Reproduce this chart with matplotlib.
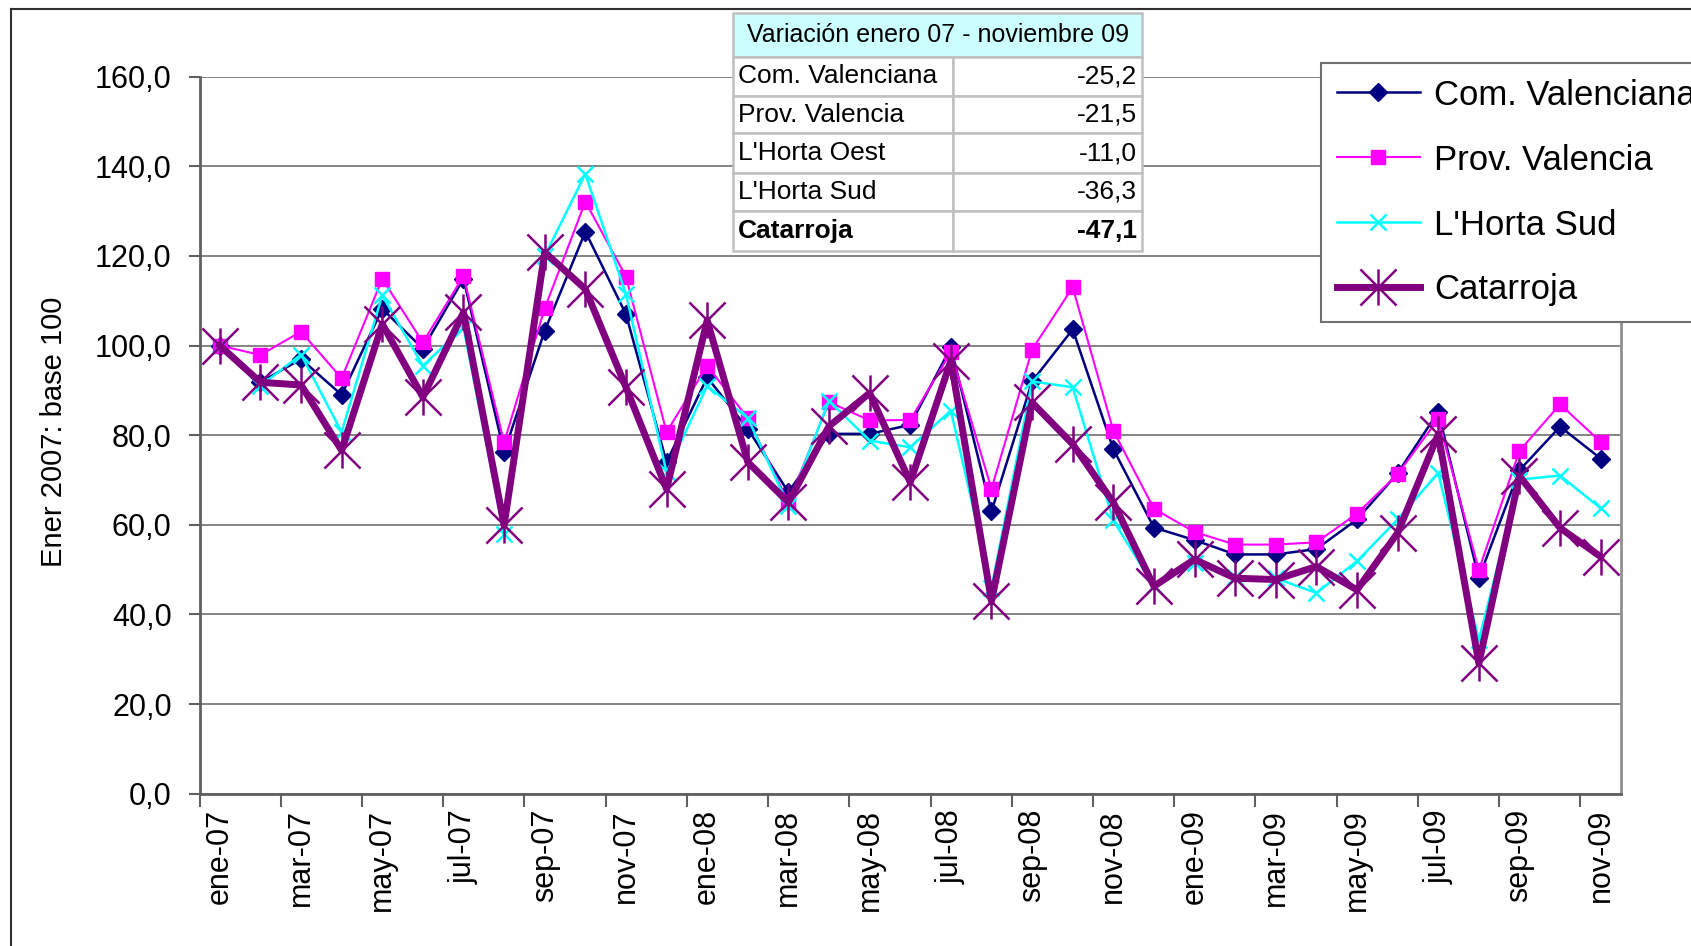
import numpy as np
import matplotlib
matplotlib.use('Agg')
import matplotlib.pyplot as plt
from matplotlib.path import Path
from matplotlib.patches import Rectangle
from matplotlib.lines import Line2D

plt.rcParams['font.family'] = ['Liberation Sans', 'DejaVu Sans']

# meses (categorias del eje x)
meses = ['ene-07', 'feb-07', 'mar-07', 'abr-07', 'may-07', 'jun-07', 'jul-07', 'ago-07',
         'sep-07', 'oct-07', 'nov-07', 'dic-07',
         'ene-08', 'feb-08', 'mar-08', 'abr-08', 'may-08', 'jun-08', 'jul-08', 'ago-08',
         'sep-08', 'oct-08', 'nov-08', 'dic-08',
         'ene-09', 'feb-09', 'mar-09', 'abr-09', 'may-09', 'jun-09', 'jul-09', 'ago-09',
         'sep-09', 'oct-09', 'nov-09']

com_valenciana = [100, 91.8, 97.0, 89.0, 108.2, 99.3, 114.9, 76.2, 103.3, 125.4, 107.0, 74.0,
                  92.9, 81.4, 67.3, 80.3, 80.3, 82.3, 99.6, 63.0, 92.0, 103.6, 76.9, 59.4,
                  56.6, 53.4, 53.4, 54.6, 61.2, 71.5, 85.2, 48.1, 72.2, 81.9, 74.8]
prov_valencia = [100, 97.9, 103.1, 92.7, 114.9, 100.7, 115.5, 78.4, 108.3, 132.1, 115.4, 80.7,
                 95.5, 83.8, 65.0, 87.4, 83.3, 83.4, 98.5, 68.0, 99.1, 113.0, 81.0, 63.6,
                 58.4, 55.6, 55.6, 56.1, 62.5, 71.3, 83.6, 49.9, 76.5, 86.9, 78.5]
horta_sud = [100, 91.0, 98.0, 80.7, 111.2, 95.5, 104.0, 58.0, 120.0, 138.3, 111.5, 71.7,
             91.0, 83.8, 64.3, 87.7, 78.8, 77.3, 85.5, 46.0, 92.0, 90.7, 61.0, 46.3,
             51.6, 48.4, 48.1, 44.8, 51.9, 61.2, 71.6, 34.3, 70.1, 71.0, 63.7]
catarroja = [100, 91.8, 91.2, 76.6, 104.8, 88.5, 107.4, 59.9, 120.8, 112.6, 90.7, 68.0,
             105.6, 74.0, 65.0, 82.0, 89.4, 69.5, 96.6, 43.0, 87.3, 78.0, 65.0, 46.3,
             52.3, 48.1, 47.8, 50.7, 45.5, 58.2, 80.2, 29.1, 70.9, 59.3, 52.9]

y_ticks = [0, 20, 40, 60, 80, 100, 120, 140, 160]

tabla_titulo = 'Variación enero 07 - noviembre 09'
tabla_regiones = ['Com. Valenciana', 'Prov. Valencia', "L'Horta Oest", "L'Horta Sud", 'Catarroja']
tabla_valores = [-25.2, -21.5, -11.0, -36.3, -47.1]

W, H = 1691, 946
fig = plt.figure(figsize=(W / 100, H / 100), dpi=100)


def fx(px):
    return px / W


def fy(py):
    return 1 - py / H


ax = fig.add_axes([fx(199.5), fy(793.8), fx(1621) - fx(199.5), fy(76.6) - fy(793.8)])
x = np.arange(len(meses))

# asterisco estilo excel: X + linea vertical
estrella = Path([(0, -1), (0, 1), (-1, -1), (1, 1), (-1, 1), (1, -1)],
                [Path.MOVETO, Path.LINETO] * 3)

ax.plot(x, com_valenciana, color='#000080', lw=1.8, marker='D', ms=9,
        label='Com. Valenciana', clip_on=False)
ax.plot(x, prov_valencia, color='#FF00FF', lw=1.5, marker='s', ms=10.5,
        label='Prov. Valencia', clip_on=False)
ax.plot(x, horta_sud, color='#00FFFF', lw=1.8, marker='x', ms=12, mew=1.8,
        label="L'Horta Sud", clip_on=False)
ax.plot(x, catarroja, color='#800080', lw=5, marker=estrella, ms=26, mew=1.8,
        label='Catarroja', clip_on=False)

ax.set_xlim(-0.5, len(meses) - 0.5)
ax.set_ylim(0, 160)
ax.set_yticks(y_ticks)
ax.set_yticklabels([f'{v:.1f}'.replace('.', ',') for v in y_ticks], fontsize=22)
ax.set_xticks(x[::2])
ax.set_xticklabels(meses[::2], rotation=90, fontsize=22)
ax.set_xticks(np.arange(-0.5, len(meses), 2), minor=True)
ax.tick_params(axis='x', which='major', length=0, pad=11)
ax.tick_params(axis='x', which='minor', length=9, width=1.5, color='#606060')
ax.tick_params(axis='y', length=8, width=1.5, color='#606060', pad=12)

ax.yaxis.grid(True, color='#707070', lw=1.2)
ax.set_axisbelow(True)
ax.spines['top'].set_visible(False)
for s in ['left', 'bottom']:
    ax.spines[s].set_color('#606060')
    ax.spines[s].set_linewidth(2)
ax.spines['right'].set_color('#909090')
ax.spines['right'].set_linewidth(2)

fig.text(fx(54), fy(432), 'Ener 2007: base 100', rotation=90, ha='center', va='center',
         fontsize=21, family=['Liberation Sans Narrow', 'Liberation Sans'])

# leyenda (sale por la derecha, como en el original)
handles, labels = ax.get_legend_handles_labels()
leg = fig.legend(handles, labels, loc='upper left', bbox_to_anchor=(fx(1321), fy(63)),
                 fontsize=25, frameon=True, fancybox=False, framealpha=1,
                 edgecolor='#707070', borderpad=0.45, labelspacing=0.92,
                 handlelength=2.4, handletextpad=0.4, borderaxespad=0)
leg.get_frame().set_linewidth(1.5)

# tabla de variacion
tx0, txm, tx1 = 733, 953, 1142
ty = [13, 56.7, 96, 133.3, 172.7, 210.7, 250.7]
borde = '#C0C0C0'
fig.patches.append(Rectangle((fx(tx0), fy(ty[1])), fx(tx1) - fx(tx0), fy(ty[0]) - fy(ty[1]),
                             transform=fig.transFigure, facecolor='#CCFFFF',
                             edgecolor=borde, lw=1.8))
fig.text(fx((tx0 + tx1) / 2), fy((ty[0] + ty[1]) / 2), tabla_titulo,
         ha='center', va='center', fontsize=18)
for i, (reg, val) in enumerate(zip(tabla_regiones, tabla_valores)):
    y0, y1 = ty[i + 1], ty[i + 2]
    for a, b in [(tx0, txm), (txm, tx1)]:
        fig.patches.append(Rectangle((fx(a), fy(y1)), fx(b) - fx(a), fy(y0) - fy(y1),
                                     transform=fig.transFigure, facecolor='white',
                                     edgecolor=borde, lw=1.8))
    peso = 'bold' if reg == 'Catarroja' else 'normal'
    fig.text(fx(tx0 + 5), fy((y0 + y1) / 2), reg, ha='left', va='center',
             fontsize=19, weight=peso)
    fig.text(fx(tx1 - 5), fy((y0 + y1) / 2), f'{val:.1f}'.replace('.', ','),
             ha='right', va='center', fontsize=19, weight=peso)

# marco exterior del grafico
fig.add_artist(Line2D([fx(11), fx(11)], [fy(9), 0], transform=fig.transFigure,
                      color='#303030', lw=1.5))
fig.add_artist(Line2D([fx(11), 1], [fy(9), fy(9)], transform=fig.transFigure,
                      color='#303030', lw=1.5))

fig.savefig('out.png', dpi=100)
